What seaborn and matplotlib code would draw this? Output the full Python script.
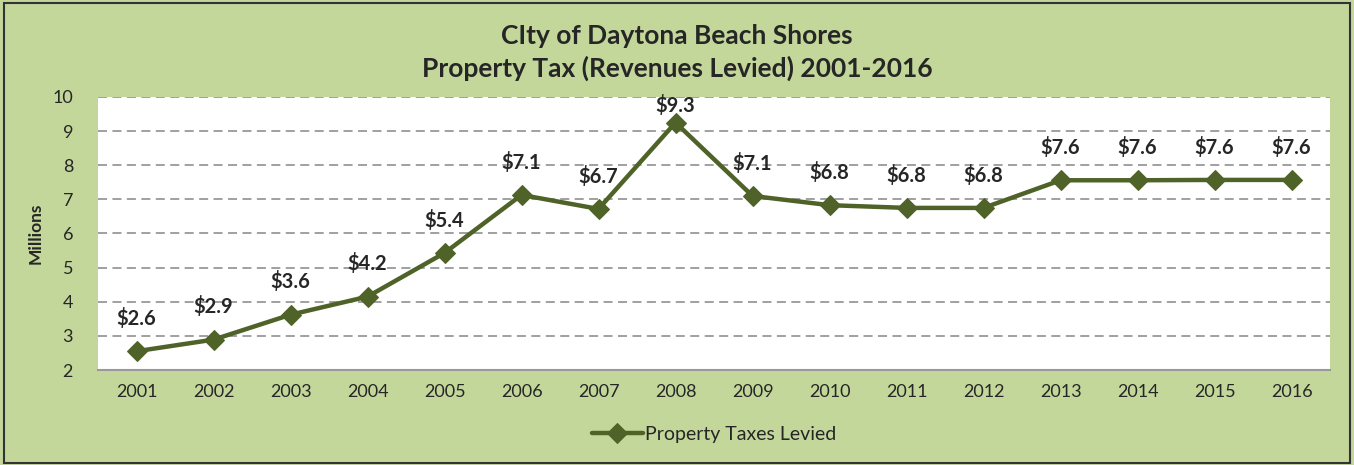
import matplotlib
matplotlib.use("Agg")
import matplotlib.pyplot as plt
import seaborn as sns
import pandas as pd

years = ['2001', '2002', '2003', '2004', '2005', '2006', '2007', '2008',
         '2009', '2010', '2011', '2012', '2013', '2014', '2015', '2016']
taxes = [2.55, 2.89, 3.62, 4.15, 5.43, 7.13, 6.72, 9.25,
         7.10, 6.83, 6.75, 6.75, 7.56, 7.56, 7.57, 7.57]
labels = ['$2.6', '$2.9', '$3.6', '$4.2', '$5.4', '$7.1', '$6.7', '$9.3',
          '$7.1', '$6.8', '$6.8', '$6.8', '$7.6', '$7.6', '$7.6', '$7.6']

df = pd.DataFrame({'year': years, 'tax': taxes})

sns.set_style("white")
plt.rcParams['font.family'] = ['Lato', 'DejaVu Sans']

bg = '#C4D79B'
line_col = '#4F6228'

fig = plt.figure(figsize=(13.54, 4.65), dpi=100, facecolor=bg)
fig.patches.append(plt.Rectangle((0.003, 0.004), 0.994, 0.99, transform=fig.transFigure,
                                 fill=False, edgecolor='#333333', linewidth=1.5))
ax = fig.add_axes([0.0724, 0.2043, 0.9099, 0.5871])
ax.set_facecolor('white')

sns.lineplot(data=df, x='year', y='tax', ax=ax, color=line_col, linewidth=3.2,
             marker='D', markersize=10, markeredgecolor=line_col,
             label='Property Taxes Levied', sort=False)

# data labels above points, kept inside the plot area near the top
for i, (v, lab) in enumerate(zip(taxes, labels)):
    off = 16 if v < 9 else 5
    ax.annotate(lab, (i, v), xytext=(0, off), textcoords='offset points',
                ha='center', va='bottom', fontsize=14.5, fontweight='bold')

ax.set_xlim(-0.5, 15.5)
ax.set_ylim(2, 10)
ax.set_yticks(range(2, 11))
ax.yaxis.grid(True, linestyle=(0, (5, 3)), color='#999999', linewidth=1.3)
ax.set_axisbelow(True)
for s in ['top', 'right', 'left']:
    ax.spines[s].set_visible(False)
ax.spines['bottom'].set_color('#999999')
ax.spines['bottom'].set_linewidth(1.5)
ax.tick_params(axis='x', length=0, labelsize=13, pad=10)
ax.tick_params(axis='y', length=0, labelsize=13, pad=18)
ax.set_xlabel('')
ax.set_ylabel('Millions', fontsize=12.5, fontweight='bold', labelpad=6)

fig.text(0.5, 0.922, 'CIty of Daytona Beach Shores', ha='center', va='center',
         fontsize=19, fontweight='bold')
fig.text(0.5, 0.852, 'Property Tax (Revenues Levied) 2001-2016', ha='center', va='center',
         fontsize=19, fontweight='bold')

ax.legend(loc='center', bbox_to_anchor=(0.5, -0.235), frameon=False, fontsize=14,
          handlelength=2.6, handletextpad=0.1)

fig.savefig('out.png', dpi=100, facecolor=bg)
